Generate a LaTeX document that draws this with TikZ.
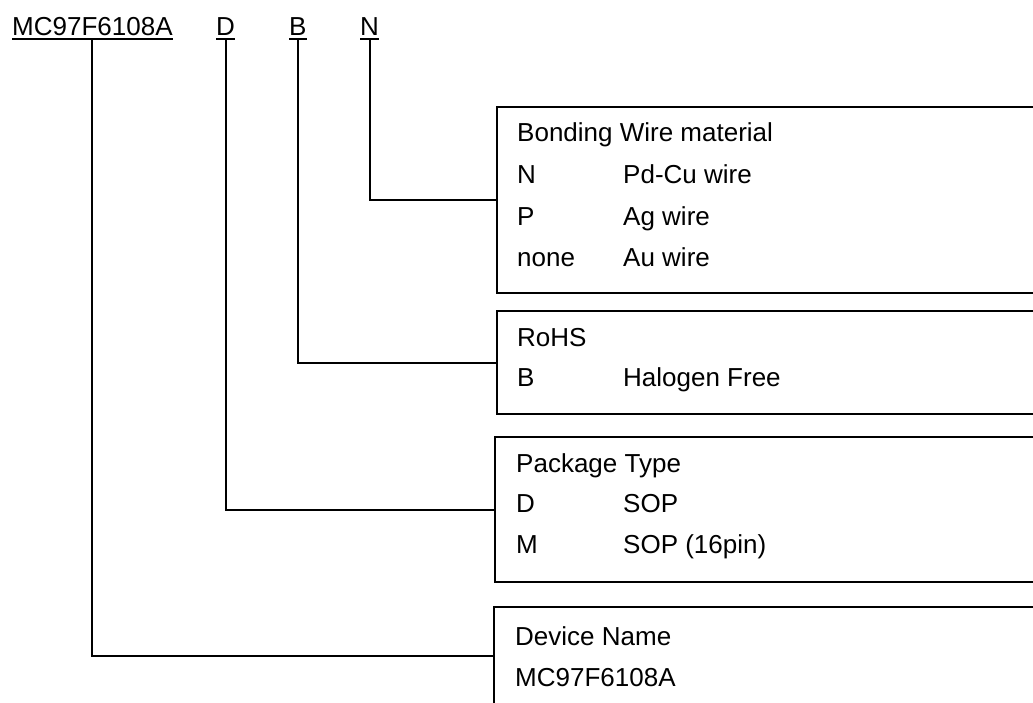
\documentclass[tikz,border=0pt]{standalone}
\usepackage{fontspec}
\setmainfont{Liberation Sans}
\begin{document}
\begin{tikzpicture}[x=1pt,y=-1pt,
  txt/.style={inner sep=0pt,anchor=base west,font=\fontsize{26}{30}\selectfont},
  hdr/.style={txt},
  ul/.style={line width=2pt},
  conn/.style={line width=2pt},
  infobox/.style={draw,line width=2pt,anchor=north west,inner sep=0pt,minimum width=560pt}]
\useasboundingbox (0,0) rectangle (1033,702);
\clip (0,0) rectangle (1033,702);
% header
\node[hdr] (hMC) at (12,35) {MC97F6108A};
\node[hdr] (hD) at (216,35) {D};
\node[hdr] (hB) at (289,35) {B};
\node[hdr] (hN) at (360,35) {N};
\foreach \n in {hMC,hD,hB,hN}{
  \draw[ul] ([yshift=-4pt]\n.base west) -- ([yshift=-4pt]\n.base east);
}
% boxes
\node[infobox,minimum height=186pt] (b1) at (496,106) {};
\node[infobox,minimum height=103pt] (b2) at (496,310) {};
\node[infobox,minimum height=145pt] (b3) at (494,436) {};
\node[infobox,minimum height=97pt] (b4) at (493,606) {};
% box 1 text
\node[txt] (t11) at (517,141) {Bonding Wire material};
\node[txt] (t12a) at (517,183) {N};
\node[txt] (t12b) at (623,183) {Pd-Cu wire};
\node[txt] (t13a) at (517,225) {P};
\node[txt] (t13b) at (623,225) {Ag wire};
\node[txt] (t14a) at (517,266) {none};
\node[txt] (t14b) at (623,266) {Au wire};
% box 2 text
\node[txt] (t21) at (517,346) {RoHS};
\node[txt] (t22a) at (517,386) {B};
\node[txt] (t22b) at (623,386) {Halogen Free};
% box 3 text
\node[txt] (t31) at (516,472) {Package Type};
\node[txt] (t32a) at (516,512) {D};
\node[txt] (t32b) at (623,512) {SOP};
\node[txt] (t33a) at (516,553) {M};
\node[txt] (t33b) at (623,553) {SOP (16pin)};
% box 4 text
\node[txt] (t41) at (515,645) {Device Name};
\node[txt] (t42) at (515,686) {MC97F6108A};
% connectors
\draw[conn] ([yshift=-4pt]hN.base) |- (b1.west);
\draw[conn] ([yshift=-4pt]hB.base) |- (b2.west);
\draw[conn] ([yshift=-4pt]hD.base) |- (b3.west);
\draw[conn] ([yshift=-4pt]hMC.base) |- (b4.west);
\end{tikzpicture}
\end{document}
